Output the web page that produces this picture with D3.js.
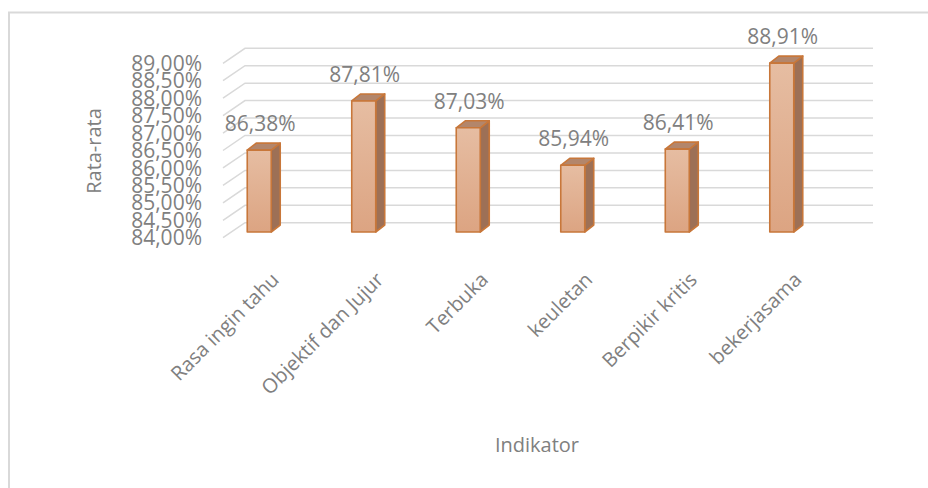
<!DOCTYPE html>
<html>
<head>
<meta charset="utf-8">
<script src="https://cdn.jsdelivr.net/npm/d3@7"></script>
<style>
  html, body { margin: 0; padding: 0; background: #fff; }
  svg { display: block; }
  text { font-family: "Open Sans", "Liberation Sans", sans-serif; fill: #808080; }
</style>
</head>
<body>
<svg id="chart" width="928" height="488"></svg>
<script>
// Rata-rata persentase per indikator
const categories = ["Rasa ingin tahu", "Objektif dan Jujur", "Terbuka", "keuletan", "Berpikir kritis", "bekerjasama"];
const values = [86.38, 87.81, 87.03, 85.94, 86.41, 88.91];
const tickValues = [84, 84.5, 85, 85.5, 86, 86.5, 87, 87.5, 88, 88.5, 89];
const yTitle = "Rata-rata";
const xTitle = "Indikator";

const svg = d3.select("#chart");
const fmt = v => v.toFixed(2).replace(".", ",") + "%";

// chart frame
svg.append("rect")
  .attr("x", 9).attr("y", 12.5)
  .attr("width", 1000).attr("height", 600)
  .attr("fill", "none").attr("stroke", "#d9d9d9").attr("stroke-width", 2);

// 3D box geometry: back wall, front edge, and the plane the columns stand in
const domain = [84, 89];
const yBack = d3.scaleLinear().domain(domain).range([222.7, 48.3]);
const yBar = d3.scaleLinear().domain(domain).range([232, 60]);
const depth = { dx: 22, dy: 15 };
const wallLeft = 245, wallRight = 873;

const x = d3.scaleBand().domain(categories).range([207, 834])
  .paddingInner(0.7704).paddingOuter(0.385);

// gridlines: back wall line plus diagonal side edge
const grid = svg.append("g").attr("stroke", "#d9d9d9").attr("stroke-width", 1.5).attr("fill", "none");
tickValues.forEach(t => {
  const yb = yBack(t);
  grid.append("path")
    .attr("d", `M${wallLeft - depth.dx},${yb + depth.dy}L${wallLeft},${yb}L${wallRight},${yb}`);
});

// y axis labels along the front edge
svg.append("g").selectAll("text").data(tickValues).join("text")
  .attr("x", 202)
  .attr("y", d => yBack(d) + depth.dy)
  .attr("dy", "0.36em")
  .attr("text-anchor", "end")
  .attr("font-size", 21)
  .text(d => fmt(d));

// column gradient
const defs = svg.append("defs");
const grad = defs.append("linearGradient").attr("id", "frontGrad")
  .attr("x1", 0).attr("y1", 0).attr("x2", 0).attr("y2", 1);
grad.append("stop").attr("offset", "0%").attr("stop-color", "#e6bda2");
grad.append("stop").attr("offset", "100%").attr("stop-color", "#dca482");

// 3D columns
const bd = { dx: 9, dy: 7 };
const bars = svg.append("g");
categories.forEach((c, i) => {
  const x0 = x(c), w = x.bandwidth();
  const yt = yBar(values[i]), yb = yBar(domain[0]);
  const g = bars.append("g").attr("stroke", "#c8773a").attr("stroke-width", 1.6).attr("stroke-linejoin", "round");
  // side face
  g.append("path")
    .attr("d", `M${x0 + w},${yt}L${x0 + w + bd.dx},${yt - bd.dy}L${x0 + w + bd.dx},${yb - bd.dy}L${x0 + w},${yb}Z`)
    .attr("fill", "#9d7056");
  // top face
  g.append("path")
    .attr("d", `M${x0},${yt}L${x0 + bd.dx},${yt - bd.dy}L${x0 + w + bd.dx},${yt - bd.dy}L${x0 + w},${yt}Z`)
    .attr("fill", "#b3866b");
  // front face
  g.append("rect")
    .attr("x", x0).attr("y", yt).attr("width", w).attr("height", yb - yt)
    .attr("fill", "url(#frontGrad)");
});

// value labels
svg.append("g").selectAll("text").data(categories).join("text")
  .attr("x", d => x(d) + x.bandwidth() / 2 + 1)
  .attr("y", (d, i) => yBar(values[i]) - 19)
  .attr("text-anchor", "middle")
  .attr("font-size", 21)
  .text((d, i) => fmt(values[i]));

// category labels, rotated
svg.append("g").selectAll("text").data(categories).join("text")
  .attr("text-anchor", "end")
  .attr("font-size", 20)
  .attr("transform", d => `translate(${x(d) + x.bandwidth() / 2 + 21},${281}) rotate(-45)`)
  .text(d => d);

// axis titles
svg.append("text")
  .attr("transform", "translate(101,151) rotate(-90)")
  .attr("text-anchor", "middle")
  .attr("font-size", 20)
  .text(yTitle);

svg.append("text")
  .attr("x", 537).attr("y", 452)
  .attr("text-anchor", "middle")
  .attr("font-size", 20)
  .text(xTitle);
</script>
</body>
</html>
